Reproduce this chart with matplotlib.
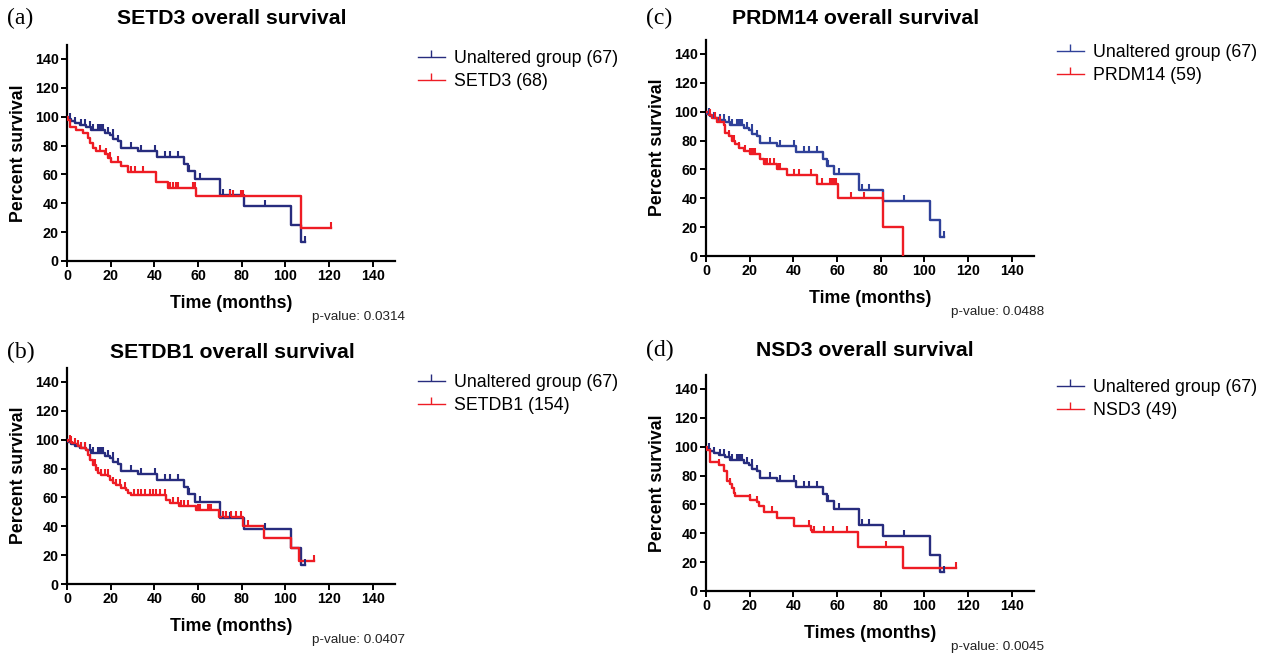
import numpy as np
import matplotlib.pyplot as plt
from matplotlib.lines import Line2D

plt.rcParams['font.family'] = ['Liberation Sans', 'DejaVu Sans']

# unaltered group (67), same in every panel
blue_t = [0, 0.5, 2, 3.5, 5.8, 8.9, 11.2, 17.3, 19.6, 21.1, 23.4, 24.9, 32.6, 41.4,
          53.5, 55.5, 58.8, 69.9, 81.1, 102.7, 107.3]
blue_s = [100, 98.5, 97, 95.5, 94, 93, 91, 88.7, 87, 84.5, 83, 78.5, 76, 72,
          67.5, 62.5, 57, 46, 38, 25, 13]
blue_end = 109
blue_cens = [1.2, 3.5, 6.6, 8.1, 10.4, 12, 14, 15, 15.7, 16.5, 18.8, 21, 23.4, 29.5, 34,
             40.5, 44.7, 47, 50.8, 55.9, 60.7, 71.5, 74.5, 90.5, 109]

# SETD3 (68)
setd3_t = [0, 0.5, 1.2, 4.3, 7.3, 9.6, 10.5, 11.9, 13.4, 17.5, 18.8, 20.3, 24.9, 27.9,
           40.6, 46.3, 59.2, 107.3]
setd3_s = [100, 97.5, 93, 90.8, 88.5, 85, 81.6, 78.5, 76, 74, 71.5, 68.5, 65.5, 62,
           54.5, 50.6, 44.8, 23]
setd3_end = 121
setd3_cens = [15, 18, 19.5, 23.4, 28, 29.5, 31, 34.8, 47, 48.5, 50, 50.8, 57.7, 58.5,
              74.5, 76, 79.8, 80.6, 121]

# SETDB1 (154)
setdb1_t = [0, 0.5, 1.5, 2.5, 3.5, 5, 6.5, 8.8, 9.6, 10.4, 11.9, 13.4, 14.2, 15.7, 19,
            19.5, 21, 22.5, 24.7, 27.1, 27.9, 29.4, 45.4, 47, 51.5, 59.1, 69.8, 80.5,
            90.4, 102.6, 106.4]
setdb1_s = [100, 99.2, 98.5, 97.7, 97, 95.5, 94.2, 93, 89.6, 86, 82.7, 79, 77, 75.8,
            74.6, 72.3, 70, 68.8, 66.5, 65.4, 63, 62, 58.5, 56, 53.8, 51.5, 46.4, 40,
            32, 25, 15.7]
setdb1_end = 113.3
setdb1_cens = [1.2, 2, 3.5, 5, 6.6, 8.1, 10.4, 12.7, 14.2, 15.7, 17.2, 18.8, 21, 22.6,
               24.1, 26.4, 30.9, 32.5, 34, 35.5, 37.8, 39.3, 40.9, 42.4, 44.7, 48.5,
               50.8, 52.3, 53.8, 55.3, 59.9, 60.7, 64.5, 65.2, 66, 71.3, 72.9, 75.2,
               77.4, 79.7, 82.8, 113.3]

# PRDM14 (59)
prdm14_t = [0, 1.2, 2.75, 5, 8.1, 8.9, 10.4, 11.9, 13.5, 15, 17.3, 20.3, 24.9, 26.5,
            32.6, 37.2, 50.9, 60.4, 81.2, 90.4]
prdm14_s = [100, 97.7, 95.4, 93, 91, 85.5, 83, 79.7, 77.3, 75, 72.7, 70.4, 67, 63.5,
            60, 56, 50, 40.4, 20, 0]
prdm14_end = 90.4
prdm14_cens = [2, 4.3, 6.6, 10.4, 11.9, 12.7, 15, 18, 20.3, 21.1, 21.9, 22.6, 24.9,
               27.2, 28, 29.5, 31, 33.3, 34.1, 40.2, 42.5, 47.9, 53.2, 57, 57.8, 58.6,
               59.3, 66.2, 72.3, 81.0]

# NSD3 (49)
nsd3_t = [0, 0.5, 2, 5.8, 8.1, 9.6, 11.2, 11.9, 12.7, 13.5, 20.3, 23.4, 24.2, 26.5,
          32.6, 40.2, 47.9, 48.6, 69.6, 90.4]
nsd3_s = [100, 97.7, 89.7, 87.3, 83.3, 76.4, 74, 71.7, 68.2, 65.6, 63.3, 61.5, 58.8,
          55, 50.6, 45.3, 42.5, 40.9, 30.7, 15.7]
nsd3_end = 114.4
nsd3_cens = [5.8, 11.2, 20.3, 23.4, 30.3, 47.1, 49.4, 54, 58.3, 64.7, 82.3, 114.4]

panels = [
    # letter, title, red label, red data, xlabel, p-value, blue color,
    # axes left/bottom px, title centre px, first legend row px
    ('(a)', 'SETD3 overall survival', 'SETD3 (68)',
     (setd3_t, setd3_s, setd3_end, setd3_cens), 'Time (months)', 'p-value: 0.0314',
     '#272c7e', 67, 261, 232, 18, 60),
    ('(b)', 'SETDB1 overall survival', 'SETDB1 (154)',
     (setdb1_t, setdb1_s, setdb1_end, setdb1_cens), 'Time (months)', 'p-value: 0.0407',
     '#272c7e', 67, 584, 232, 352, 384),
    ('(c)', 'PRDM14 overall survival', 'PRDM14 (59)',
     (prdm14_t, prdm14_s, prdm14_end, prdm14_cens), 'Time (months)', 'p-value: 0.0488',
     '#2f4199', 706, 256, 856, 18, 54),
    ('(d)', 'NSD3 overall survival', 'NSD3 (49)',
     (nsd3_t, nsd3_s, nsd3_end, nsd3_cens), 'Times (months)', 'p-value: 0.0045',
     '#272c7e', 706, 591, 865, 350, 389),
]

W, H = 1264, 664
red = '#ee1c24'
aw, ah = 327.6, 216.5

fig = plt.figure(figsize=(W / 100, H / 100), dpi=100)


def draw_km(ax, t, s, end, cens, color):
    tt = list(t) + [end]
    ss = list(s) + [s[-1]]
    ax.step(tt, ss, where='post', color=color, lw=1.7, zorder=3)
    idx = np.searchsorted(np.array(t), np.array(cens), side='right') - 1
    ax.plot(cens, np.array(s)[idx], ls='none', marker=2, ms=4.5, mew=1.5,
            color=color, zorder=4)


for (letter, title, rlabel, rdata, xlabel, pval, bcol, lpx, bpx, tx, ty, legy) in panels:
    ax = fig.add_axes([lpx / W, 1 - bpx / H, aw / W, ah / H])
    draw_km(ax, blue_t, blue_s, blue_end, blue_cens, bcol)
    draw_km(ax, *rdata, red)

    ax.set_xlim(0, 150)
    ax.set_ylim(0, 150)
    ax.set_xticks(range(0, 141, 20))
    ax.set_yticks(range(0, 141, 20))
    for side in ['top', 'right']:
        ax.spines[side].set_visible(False)
    for side in ['left', 'bottom']:
        ax.spines[side].set_linewidth(1.6)
    ax.tick_params(direction='out', length=4, width=1.4, labelsize=10.3, pad=2)
    plt.setp(ax.get_xticklabels() + ax.get_yticklabels(), fontweight='bold')

    ax.text(0.5, -0.195, xlabel, transform=ax.transAxes, ha='center', va='center',
            fontsize=12.8, fontweight='bold')
    ax.text(-0.148, 0.5, 'Percent survival', transform=ax.transAxes, ha='center',
            va='center', rotation=90, fontsize=12.8, fontweight='bold')

    fig.text(tx / W, 1 - (ty + 1) / H, title, ha='center', va='center', fontsize=15.3,
             fontweight='bold')
    fig.text((lpx - 60) / W, 1 - ty / H, letter, ha='left', va='center', fontsize=17,
             family='Liberation Serif')
    fig.text((lpx + 338) / W, 1 - (bpx + 56) / H, pval, ha='right', va='center',
             fontsize=9.7, color='#222222')

    handles = [Line2D([], [], color=bcol, lw=1, marker=2, ms=5, mew=1),
               Line2D([], [], color=red, lw=1, marker=2, ms=5, mew=1)]
    ax.legend(handles, ['Unaltered group (67)', rlabel], loc='upper left',
              bbox_to_anchor=((lpx + 351) / W, 1 - (legy - 10) / H),
              bbox_transform=fig.transFigure, frameon=False, borderpad=0,
              borderaxespad=0, handlelength=1.5, handletextpad=0.5,
              labelspacing=0.35, fontsize=12.8, numpoints=1)

fig.savefig('out.png', dpi=100)
